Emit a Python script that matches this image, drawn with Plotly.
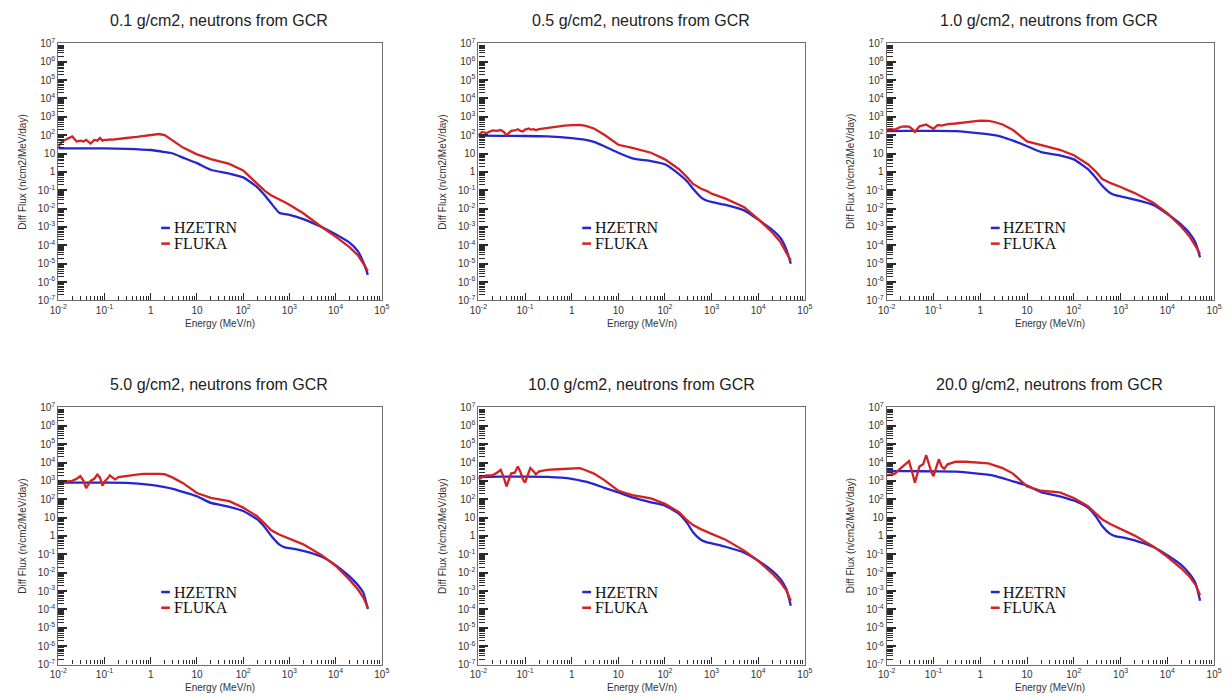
import plotly.graph_objects as go

# Energy grids (MeV/n)
E_HZETRN = [0.01, 0.03, 0.1, 0.3, 1, 2, 3, 5, 10, 20, 50, 100, 200, 300, 400,
            600, 800, 1000, 2000, 5000, 1e4, 2e4, 3e4, 4e4, 5e4]
E_FLUKA = [0.01, 0.012, 0.015, 0.02, 0.025, 0.03, 0.035, 0.04, 0.05, 0.06, 0.07,
           0.08, 0.09, 0.1, 0.12, 0.13, 0.15, 0.17, 0.2, 0.3, 0.5, 0.7, 1, 1.5, 2,
           3, 5, 10, 20, 50, 100, 200, 300, 400, 600, 800, 1000, 2000, 5000, 1e4,
           2e4, 3e4, 4e4, 5e4]

# Shielding depths (g/cm2)
depths = ["0.1", "0.5", "1.0", "5.0", "10.0", "20.0"]

# HZETRN differential neutron flux (n/cm2/MeV/day)
hz_0p1 = [19, 19, 19, 18, 15.5, 12, 10, 6, 3.0, 1.3, 0.8, 0.5, 0.15, 0.05, 0.02,
          0.006, 0.005, 0.0046, 0.0027, 0.001, 4e-4, 1.4e-4, 5e-5, 1.2e-5, 2.5e-6]
hz_0p5 = [95, 92, 90, 85, 69, 55, 43, 25, 11, 5.5, 3.9, 2.6, 0.76, 0.3, 0.12,
          0.04, 0.027, 0.023, 0.016, 0.008, 0.0025, 7e-4, 2.5e-4, 6e-5, 1e-5]
hz_1p0 = [165, 170, 170, 165, 125, 100, 78, 50, 25, 12, 8, 4.8, 1.4, 0.45, 0.18,
          0.07, 0.052, 0.047, 0.031, 0.016, 0.0051, 1.3e-3, 4.5e-4, 1.4e-4, 2.2e-5]
hz_5p0 = [800, 800, 800, 780, 600, 460, 370, 250, 145, 63, 39, 23, 8.2, 2.8, 1.07,
          0.35, 0.24, 0.22, 0.155, 0.074, 0.026, 6.3e-3, 2.2e-3, 8e-4, 1.05e-4]
hz_10p0 = [1600, 1700, 1700, 1650, 1300, 900, 660, 420, 235, 125, 68, 45, 16, 5,
           1.6, 0.6, 0.45, 0.4, 0.26, 0.125, 0.045, 0.0125, 4.5e-3, 1.3e-3, 1.6e-4]
hz_20p0 = [3400, 3400, 3300, 3200, 2400, 1900, 1400, 950, 560, 246, 145, 85, 35,
           11, 3.6, 1.3, 0.95, 0.87, 0.58, 0.25, 0.09, 0.026, 8.5e-3, 2.7e-3, 3e-4]

# FLUKA differential neutron flux (n/cm2/MeV/day)
fl_0p1 = [22, 45, 60, 85, 45, 50, 45, 55, 35, 55, 50, 70, 50, 55, 55, 58, 57, 60,
          60, 70, 80, 90, 100, 115, 100, 50, 21, 9, 5, 2.7, 1.2, 0.23, 0.09, 0.054,
          0.03, 0.022, 0.016, 0.0056, 0.001, 3e-4, 8e-5, 3e-5, 1e-5, 4e-6]
fl_0p5 = [100, 150, 130, 180, 170, 190, 150, 100, 170, 180, 210, 170, 160, 200,
          230, 200, 210, 190, 210, 250, 300, 330, 350, 360, 320, 230, 105, 30, 20,
          11, 4.8, 1.4, 0.5, 0.22, 0.12, 0.09, 0.065, 0.035, 0.012, 0.0027, 5e-4,
          1.5e-4, 4e-5, 1.5e-5]
fl_1p0 = [200, 210, 200, 280, 300, 290, 220, 150, 300, 350, 380, 300, 240, 220,
          340, 350, 330, 360, 400, 430, 520, 580, 620, 600, 520, 380, 190, 46, 30,
          16, 8, 2.6, 1.0, 0.42, 0.25, 0.19, 0.15, 0.07, 0.021, 0.0056, 1e-3,
          3e-4, 9e-5, 3.5e-5]
fl_5p0 = [650, 800, 900, 1000, 1300, 1800, 1000, 400, 1000, 1300, 2200, 1500, 550,
          900, 1500, 2000, 1500, 1200, 1600, 1900, 2200, 2400, 2500, 2400, 2300,
          1500, 750, 220, 118, 79, 35, 12, 4.5, 2.1, 1.2, 0.9, 0.7, 0.35, 0.09,
          0.024, 4.2e-3, 1.3e-3, 4.4e-4, 1.2e-4]
fl_10p0 = [1200, 1600, 2000, 2000, 2800, 4000, 1500, 500, 2500, 2800, 6000, 3000,
           1200, 800, 3000, 5000, 3500, 2300, 3300, 4000, 4300, 4500, 4500, 5000,
           3800, 2500, 1100, 290, 170, 112, 56, 20, 7, 3.9, 2.3, 1.6, 1.3, 0.62,
           0.16, 0.044, 9e-3, 3e-3, 1.1e-3, 3e-4]
fl_20p0 = [2000, 2200, 2500, 5000, 8000, 12000, 3000, 800, 6000, 8000, 25000, 8000,
           3000, 1800, 10000, 15000, 6000, 4500, 8000, 11000, 11000, 10500, 10000,
           9000, 7000, 5000, 2500, 500, 290, 235, 117, 42, 16, 8.2, 4.5, 3.2, 2.4,
           1.05, 0.27, 0.074, 0.017, 6e-3, 2.2e-3, 6e-4]

hz_series = [hz_0p1, hz_0p5, hz_1p0, hz_5p0, hz_10p0, hz_20p0]
fl_series = [fl_0p1, fl_0p5, fl_1p0, fl_5p0, fl_10p0, fl_20p0]

x_tickvals = [1e-2, 1e-1, 1, 10, 1e2, 1e3, 1e4, 1e5]
x_ticktext = ["10<sup>-2</sup>", "10<sup>-1</sup>", "1", "10", "10<sup>2</sup>",
              "10<sup>3</sup>", "10<sup>4</sup>", "10<sup>5</sup>"]
y_tickvals = [10.0 ** k for k in range(-7, 8)]
y_ticktext = [("1" if k == 0 else "10" if k == 1 else f"10<sup>{k}</sup>")
              for k in range(-7, 8)]
# minor tick positions: 2..9 within each decade
x_minor = [m * 10.0 ** k for k in range(-2, 5) for m in range(2, 10)]
y_minor = [m * 10.0 ** k for k in range(-7, 7) for m in range(2, 10)]

BLUE = "#2525d2"
RED = "#d42222"
TICK = "#2a2a2a"
W, H = 1232, 700

# panel boxes in pixels: (left, right), (top, bottom)
cols = [(50, 378), (476, 807), (890, 1222)]
rows = [(37, 299), (408, 670)]
title_y = [14, 385]
title_x = [213, 641, 1055]

fig = go.Figure()
sans = "Liberation Sans, Arial, sans-serif"
serif = "Liberation Serif, Times New Roman, serif"

for i, depth in enumerate(depths):
    r, c = divmod(i, 3)
    n = i + 1
    xa = "x" if n == 1 else f"x{n}"
    ya = "y" if n == 1 else f"y{n}"
    left, right = cols[c]
    top, bottom = rows[r]

    fig.add_trace(go.Scatter(x=E_HZETRN, y=hz_series[i], mode="lines",
                             line=dict(color=BLUE, width=2.3, shape="spline", smoothing=0.5),
                             xaxis=xa, yaxis=ya, showlegend=False, name="HZETRN"))
    fig.add_trace(go.Scatter(x=E_FLUKA, y=fl_series[i], mode="lines",
                             line=dict(color=RED, width=2.3),
                             xaxis=xa, yaxis=ya, showlegend=False, name="FLUKA"))

    xkey = "xaxis" if n == 1 else f"xaxis{n}"
    ykey = "yaxis" if n == 1 else f"yaxis{n}"
    fig.update_layout({
        xkey: dict(type="log", range=[-2, 5], domain=[left / W, right / W],
                   anchor=ya, tickmode="array", tickvals=x_tickvals,
                   ticktext=x_ticktext, ticks="inside", ticklen=7, tickwidth=1.3,
                   tickcolor=TICK,
                   showline=True, mirror=True, linecolor="#6e6e6e", linewidth=1.2,
                   showgrid=False, zeroline=False,
                   tickfont=dict(family=sans, size=10, color="#333"),
                   minor=dict(ticks="inside", ticklen=4, tickwidth=1.2,
                              tickmode="array", tickvals=x_minor,
                              tickcolor=TICK, showgrid=False)),
        ykey: dict(type="log", range=[-7, 7],
                   domain=[1 - bottom / H, 1 - top / H],
                   anchor=xa, tickmode="array", tickvals=y_tickvals,
                   ticktext=y_ticktext, ticks="inside", ticklen=9, tickwidth=1.5,
                   tickcolor=TICK,
                   showline=True, mirror=True, linecolor="#6e6e6e", linewidth=1.2,
                   showgrid=False, zeroline=False,
                   tickfont=dict(family=sans, size=10, color="#333"),
                   minor=dict(ticks="inside", ticklen=6, tickwidth=1.2,
                              tickmode="array", tickvals=y_minor,
                              tickcolor=TICK, showgrid=False)),
    })

    # panel title
    fig.add_annotation(text=f"{depth} g/cm2, neutrons from GCR", x=title_x[c] / W,
                       y=1 - title_y[r] / H, xref="paper", yref="paper",
                       showarrow=False, font=dict(family=sans, size=16, color="#222"),
                       xanchor="center", yanchor="middle")
    # axis titles
    fig.add_annotation(text="Energy (MeV/n)", x=(left + right) / 2 / W,
                       y=1 - (bottom + 23) / H, xref="paper", yref="paper",
                       showarrow=False, font=dict(family=sans, size=10, color="#333"),
                       xanchor="center", yanchor="middle")
    fig.add_annotation(text="Diff Flux (n/cm2/MeV/day)", x=(left - 36) / W,
                       y=1 - (top + bottom) / 2 / H, xref="paper", yref="paper",
                       showarrow=False, textangle=-90,
                       font=dict(family=sans, size=10, color="#333"),
                       xanchor="center", yanchor="middle")

    # in-panel legend
    for name, color, yd in (("HZETRN", BLUE, 0.282), ("FLUKA", RED, 0.221)):
        fig.add_shape(type="line", xref=f"{xa} domain", yref=f"{ya} domain",
                      x0=0.318, x1=0.345, y0=yd, y1=yd,
                      line=dict(color=color, width=2.5))
        fig.add_annotation(text=name, xref=f"{xa} domain", yref=f"{ya} domain",
                           x=0.35, y=yd, showarrow=False, xanchor="left",
                           yanchor="middle",
                           font=dict(family=serif, size=16, color="#111"))

fig.update_layout(width=W, height=H, margin=dict(l=0, r=0, t=0, b=0),
                  paper_bgcolor="white", plot_bgcolor="white", showlegend=False)

fig.write_html("out.html")
